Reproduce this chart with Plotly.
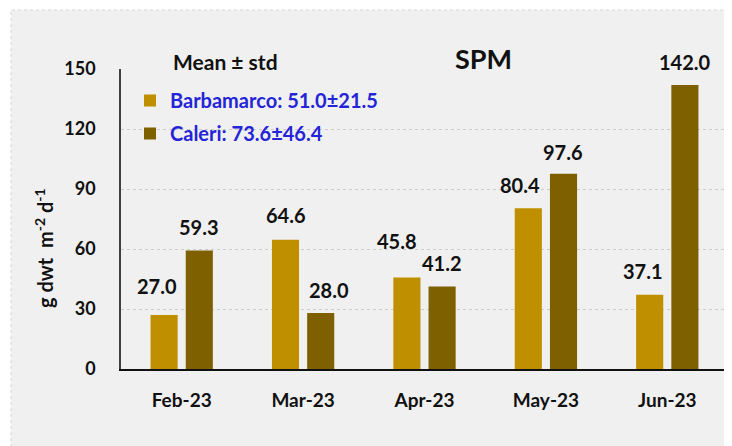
import plotly.graph_objects as go

months = ["Feb-23", "Mar-23", "Apr-23", "May-23", "Jun-23"]
barbamarco = [27.0, 64.6, 45.8, 80.4, 37.1]
caleri = [59.3, 28.0, 41.2, 97.6, 142.0]
legend_names = ["Barbamarco: 51.0±21.5", "Caleri: 73.6±46.4"]
y_ticks = [0, 30, 60, 90, 120, 150]

# label pixel tweaks (style only)
barb_dx = [-7, 0, -10, -8, -7]
barb_dy = [29, 25, 36, 23, 24]
cal_dx = [0, 8, 0, 0, 0]
cal_dy = [23, 23, 24, 22, 23]

FONT = "Lato"
OFF = 8  # page body margin
W, H = 732 - OFF, 446 - OFF
L, T = 121 - OFF, 69 - OFF
R = W - (728 - OFF)
B = H - (369 - OFF)
pw = W - L - R
ph = H - T - B


def px(xp):
    return (xp - OFF - L) / pw


def py(yp):
    return (H - B - (yp - OFF)) / ph


fig = go.Figure()
fig.add_trace(go.Bar(x=months, y=barbamarco, name=legend_names[0],
                     marker=dict(color="#BF8F00", line=dict(width=0)),
                     legendgroup="a"))
fig.add_trace(go.Bar(x=months, y=caleri, name=legend_names[1],
                     marker=dict(color="#7F6000", line=dict(width=0)),
                     legendgroup="b"))

annotations = []
slot_off = 17.5
lab_font = dict(family=FONT, size=20, color="#111111", weight="bold")
for i, m in enumerate(months):
    annotations.append(dict(x=m, y=barbamarco[i], xref="x", yref="y",
                            text=f"{barbamarco[i]:.1f}", showarrow=False,
                            xshift=-slot_off + barb_dx[i], yshift=barb_dy[i],
                            font=lab_font))
    annotations.append(dict(x=m, y=caleri[i], xref="x", yref="y",
                            text=f"{caleri[i]:.1f}", showarrow=False,
                            xshift=slot_off + cal_dx[i], yshift=cal_dy[i],
                            font=lab_font))

annotations.append(dict(x=px(225), y=py(62), xref="paper", yref="paper",
                        text="Mean ± std", showarrow=False, xanchor="center", yanchor="middle",
                        font=dict(family=FONT, size=21, color="#111111", weight="bold")))
annotations.append(dict(x=px(483), y=py(58), xref="paper", yref="paper",
                        text="SPM", showarrow=False, xanchor="center", yanchor="middle",
                        font=dict(family=FONT, size=27, color="#111111", weight="bold")))
annotations.append(dict(x=px(44), y=py(248), xref="paper", yref="paper",
                        text="g dwt  m<sup>-2</sup> d<sup>-1</sup>", textangle=-90,
                        showarrow=False, xanchor="center", yanchor="middle",
                        font=dict(family=FONT, size=20, color="#111111", weight="bold")))

shapes = [dict(type="rect", xref="paper", yref="paper", layer="below",
               x0=px(11), x1=px(740), y0=py(452), y1=py(10),
               fillcolor="#F0F0F0", line=dict(color="#D4D4D4", width=1, dash="dot"))]

fig.update_layout(
    width=W, height=H,
    margin=dict(l=L, r=R, t=T, b=B, pad=0),
    paper_bgcolor="white", plot_bgcolor="rgba(0,0,0,0)",
    barmode="group", bargap=0.42, bargroupgap=0.23,
    font=dict(family=FONT, color="#111111"),
    showlegend=True,
    legend=dict(x=px(130), y=py(81), xanchor="left", yanchor="top",
                bgcolor="rgba(0,0,0,0)", traceorder="grouped", tracegroupgap=4,
                font=dict(family=FONT, size=20, color="#2424D8", weight="bold"),
                itemwidth=30),
    annotations=annotations,
    shapes=shapes,
    xaxis=dict(showline=True, linecolor="#111111", linewidth=1.5, ticks="",
               tickfont=dict(family=FONT, size=19, color="#111111", weight="bold"),
               ticklabelstandoff=13, showgrid=False, zeroline=False),
    yaxis=dict(range=[0, 150], tickvals=y_ticks, showline=True, linecolor="#404040",
               linewidth=1.5, ticks="", showgrid=True, gridcolor="#CCCCCC",
               griddash="dot", gridwidth=1, zeroline=False,
               tickfont=dict(family=FONT, size=18, color="#111111", weight="bold"),
               ticklabelstandoff=20),
)

fig.write_html("out.html")
